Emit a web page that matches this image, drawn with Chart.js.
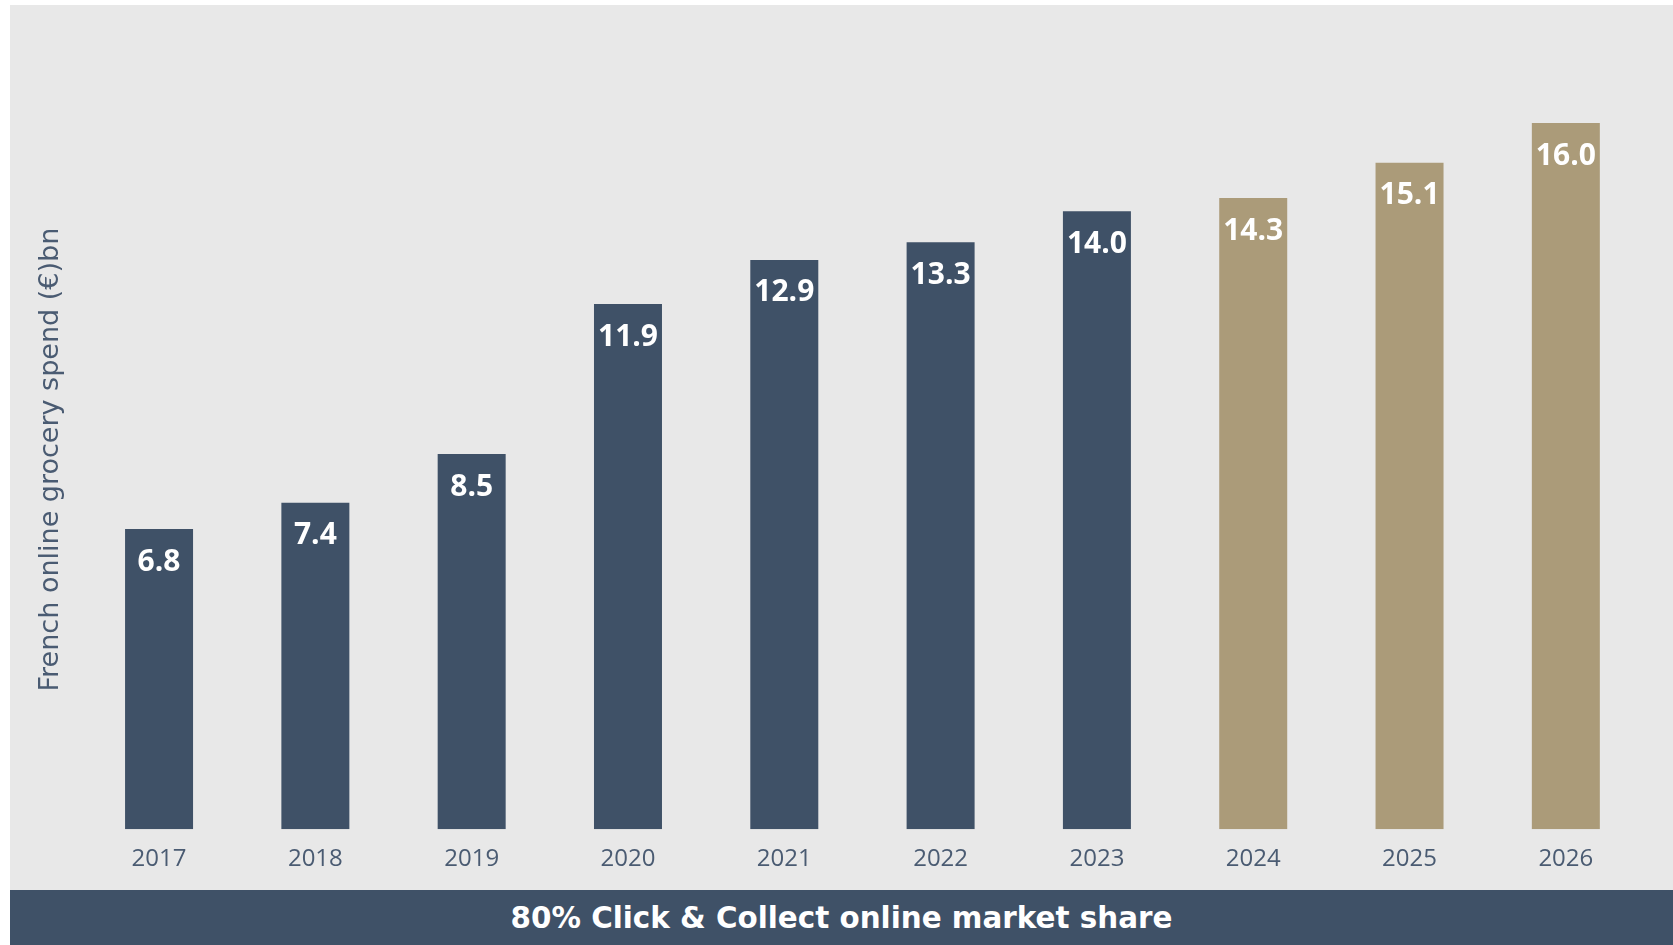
<!DOCTYPE html>
<html>
<head>
<meta charset="utf-8">
<title>French online grocery spend</title>
<script src="https://cdn.jsdelivr.net/npm/chart.js@4/dist/chart.umd.min.js"></script>
<style>
    html, body { margin: 0; padding: 0; background: #ffffff; }
    body { width: 1673px; height: 945px; position: relative; overflow: hidden; font-family: "Open Sans", sans-serif; }
    .panel { position: absolute; left: 10px; top: 5px; width: 1663px; height: 885px; background: #e8e8e8; }
    .banner {
        position: absolute; left: 10px; top: 890px; width: 1663px; height: 55px;
        background: #3f5167; color: #ffffff; font-family: "DejaVu Sans", sans-serif;
        font-weight: 700; font-size: 29.4px;
        display: flex; align-items: center; justify-content: center;
    }
</style>
</head>
<body>
<div class="panel"><canvas id="spend-chart"></canvas></div>
<div class="banner">80% Click &amp; Collect online market share</div>

<script>
// Jahre und Ausgaben in Mrd. €; ab 2024 Prognose
const years = ['2017', '2018', '2019', '2020', '2021', '2022', '2023', '2024', '2025', '2026'];
const spend = [6.8, 7.4, 8.5, 11.9, 12.9, 13.3, 14.0, 14.3, 15.1, 16.0];
const forecast = [false, false, false, false, false, false, false, true, true, true];

const NAVY = '#3f5167';
const GOLD = '#ab9b79';
const TEXT = '#4a5b72';

// Werte weiß in den oberen Teil jedes Balkens schreiben
const valueLabels = {
    id: 'valueLabels',
    afterDatasetsDraw(chart) {
        const ctx = chart.ctx;
        const meta = chart.getDatasetMeta(0);
        ctx.save();
        ctx.fillStyle = '#ffffff';
        ctx.font = '700 30px "Open Sans"';
        ctx.textAlign = 'center';
        ctx.textBaseline = 'middle';
        meta.data.forEach((bar, i) => {
            ctx.fillText(spend[i].toFixed(1), bar.x, bar.y + 33);
        });
        ctx.restore();
    }
};

new Chart(document.getElementById('spend-chart'), {
    type: 'bar',
    data: {
        labels: years,
        datasets: [{
            data: spend,
            backgroundColor: forecast.map(f => f ? GOLD : NAVY),
            borderWidth: 0,
            categoryPercentage: 1,
            barPercentage: 0.435,
        }],
    },
    options: {
        responsive: true,
        maintainAspectRatio: false,
        animation: false,
        layout: { padding: { left: 20.5, right: 29, top: 85, bottom: 0 } },
        plugins: {
            legend: { display: false },
            tooltip: { enabled: false },
        },
        scales: {
            x: {
                grid: { display: false, drawTicks: false },
                border: { display: false },
                ticks: { color: TEXT, font: { family: 'Open Sans', size: 24 }, padding: 16 },
            },
            y: {
                min: 0,
                max: 16.75,
                grid: { display: false, drawTicks: false },
                border: { display: false },
                ticks: { display: false },
                title: {
                    display: true,
                    text: 'French online grocery spend (€)bn',
                    color: TEXT,
                    font: { family: 'DejaVu Sans', size: 27 },
                    padding: { top: 4, bottom: 14 },
                },
            },
        },
    },
    plugins: [valueLabels],
});
</script>
</body>
</html>
